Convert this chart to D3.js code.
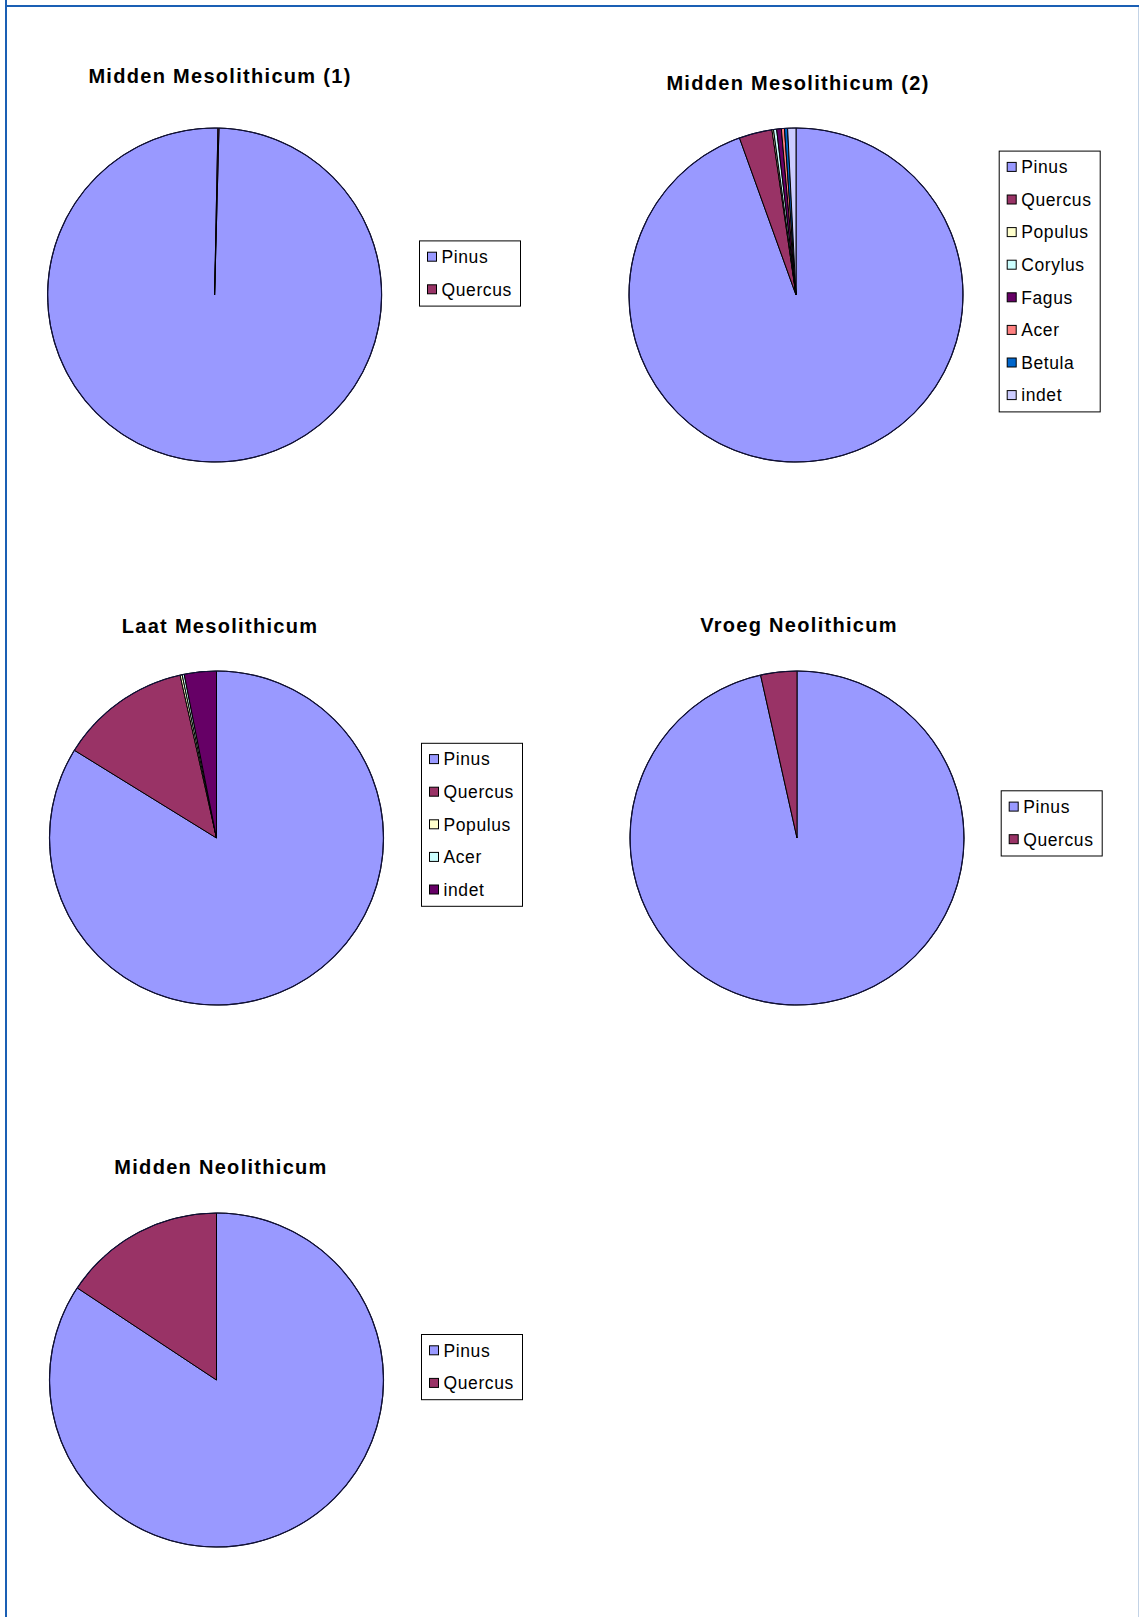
<!DOCTYPE html>
<html>
<head>
<meta charset="utf-8">
<script src="https://cdn.jsdelivr.net/npm/d3@7"></script>
<style>
  html, body { margin: 0; padding: 0; background: #ffffff; }
  svg { display: block; }
</style>
</head>
<body>
<svg id="chart" width="1139" height="1617"></svg>
<script>
// ---------- data ----------
const titles = [
  "Midden Mesolithicum (1)",
  "Midden Mesolithicum (2)",
  "Laat Mesolithicum",
  "Vroeg Neolithicum",
  "Midden Neolithicum"
];

const taxa1 = ["Pinus", "Quercus"];
const values1 = [99.9, 0.1];

const taxa2 = ["Pinus", "Quercus", "Populus", "Corylus", "Fagus", "Acer", "Betula", "indet"];
const values2 = [94.5, 3.2, 0.15, 0.3, 0.45, 0.3, 0.3, 0.8];

const taxa3 = ["Pinus", "Quercus", "Populus", "Acer", "indet"];
const values3 = [83.8, 12.7, 0.2, 0.2, 3.1];

const taxa4 = ["Pinus", "Quercus"];
const values4 = [96.5, 3.5];

const taxa5 = ["Pinus", "Quercus"];
const values5 = [84.3, 15.7];

// Excel default pie palette (by series position)
const palette = ["#9999ff", "#993366", "#ffffcc", "#ccffff", "#660066", "#ff8080", "#0066cc", "#ccccff"];

// ---------- layout ----------
const charts = [
  { taxa: taxa1, values: values1, cx: 214.6, cy: 295,  titleX: 220, titleY: 82.5,   lx: 419,   ly: 240.4, rot: 1.5 },
  { taxa: taxa2, values: values2, cx: 796,   cy: 295,  titleX: 798, titleY: 89.5,   lx: 998.7, ly: 150.6, rot: 0 },
  { taxa: taxa3, values: values3, cx: 216.5, cy: 838,  titleX: 220, titleY: 632.5,  lx: 421,   ly: 742.8, rot: 0 },
  { taxa: taxa4, values: values4, cx: 797,   cy: 838,  titleX: 799, titleY: 631.5,  lx: 1000.7,ly: 790.3, rot: 0 },
  { taxa: taxa5, values: values5, cx: 216.5, cy: 1380, titleX: 221, titleY: 1173.5, lx: 421,   ly: 1334,  rot: 0 }
];
const R = 167;
const legendW = 101, itemH = 32.6;

const svg = d3.select("#chart");

// page frame
svg.append("line").attr("x1", 6).attr("y1", 0).attr("x2", 6).attr("y2", 1617)
  .attr("stroke", "#1a5fb4").attr("stroke-width", 2);
svg.append("line").attr("x1", 5).attr("y1", 6).attr("x2", 1139).attr("y2", 6)
  .attr("stroke", "#1a5fb4").attr("stroke-width", 2);
svg.append("line").attr("x1", 1138.5).attr("y1", 7).attr("x2", 1138.5).attr("y2", 1617)
  .attr("stroke", "#c3d3e6").attr("stroke-width", 1);

const arc = d3.arc().innerRadius(0).outerRadius(R);

charts.forEach((c, ci) => {
  const g = svg.append("g").attr("transform", `translate(${c.cx},${c.cy})`);
  const off = c.rot * Math.PI / 180;
  const pie = d3.pie().sort(null).value(d => d.v)
    .startAngle(off).endAngle(off + 2 * Math.PI);
  const data = c.taxa.map((t, i) => ({ t, v: c.values[i], i }));
  const color = d3.scaleOrdinal().domain(c.taxa).range(palette);

  g.selectAll("path.slice").data(pie(data)).join("path")
    .attr("class", "slice")
    .attr("d", arc)
    .attr("fill", d => color(d.data.t))
    .attr("stroke", "#000")
    .attr("stroke-width", 1)
    .attr("stroke-linejoin", "round");

  g.append("circle").attr("r", R).attr("fill", "none")
    .attr("stroke", "#10103a").attr("stroke-width", 1.2);

  // title
  svg.append("text")
    .attr("x", c.titleX).attr("y", c.titleY)
    .attr("text-anchor", "middle")
    .attr("font-family", "'Liberation Sans', Arial, sans-serif")
    .attr("font-weight", "bold")
    .attr("font-size", 20)
    .attr("letter-spacing", 1.3)
    .attr("fill", "#000")
    .text(titles[ci]);

  // legend
  const n = c.taxa.length;
  const lh = n * itemH;
  const lg = svg.append("g").attr("transform", `translate(${c.lx},${c.ly})`);
  lg.append("rect").attr("x", 0.5).attr("y", 0.5)
    .attr("width", legendW).attr("height", lh)
    .attr("fill", "#fff").attr("stroke", "#000").attr("stroke-width", 1);
  const items = lg.selectAll("g.item").data(c.taxa).join("g")
    .attr("class", "item")
    .attr("transform", (d, i) => `translate(0,${itemH / 2 + i * itemH})`);
  items.append("rect")
    .attr("x", 8.5).attr("y", -4.5).attr("width", 9).attr("height", 9)
    .attr("fill", d => color(d)).attr("stroke", "#000").attr("stroke-width", 1);
  items.append("text")
    .attr("x", 22.5).attr("y", 0).attr("dy", "0.36em")
    .attr("font-family", "'Liberation Sans', Arial, sans-serif")
    .attr("font-size", 17.5)
    .attr("letter-spacing", 0.6)
    .attr("fill", "#000")
    .text(d => d);
});
</script>
</body>
</html>
